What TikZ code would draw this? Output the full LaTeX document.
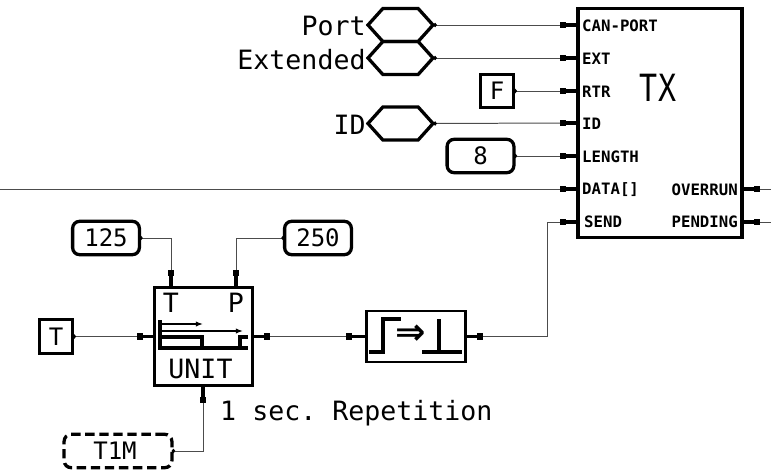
\documentclass[tikz,border=0pt]{standalone}
\usepackage{fontspec}
\setmonofont{DejaVu Sans Mono}
\newfontfamily\arrowfont{DejaVu Sans}
\usetikzlibrary{arrows.meta,shapes.symbols}

\tikzset{
    box/.style={draw, line width=2.8pt, inner sep=0pt, font=\ttfamily\fontsize{20.5}{20.5}\selectfont},
    constbox/.style={box, rounded corners=6pt, minimum width=57pt, minimum height=28.5pt},
    flagbox/.style={box, minimum width=28.5pt, minimum height=28.5pt},
    hexbox/.style={draw, line width=2.8pt, shape=signal, signal from=nowhere, signal to=east and west,
        signal pointer angle=96, inner sep=0pt, minimum width=55.5pt, minimum height=28.2pt},
    icon/.style={line width=2.8pt},
    wire/.style={line width=0.85pt, black!70},
    outwire/.style={wire, shorten <=-1.6pt, {Circle[length=3pt,width=3.5pt,black]}-},
    stub/.style={line width=2.8pt, {Square[length=5.5pt,width=5.5pt]}-},
    pinlabel/.style={inner sep=0pt, font=\ttfamily\bfseries\fontsize{13.4}{13.4}\selectfont},
    biglabel/.style={inner sep=0pt, font=\ttfamily\fontsize{22.7}{22.7}\selectfont}
}

\begin{document}
\begin{tikzpicture}[x=0.03cm, y=-0.03cm]
    % Picture frame
    \useasboundingbox (0, 0) rectangle (771, 470);

    % 1. TX block and its pins
    \node[box, minimum width=140pt, minimum height=196pt] (tx) at (660, 123) {};
    \node[xscale=0.8, transform shape, inner sep=0pt, font=\ttfamily\fontsize{32}{32}\selectfont] (txname) at (658, 88) {TX};

    \coordinate (pincan) at (560, 25);
    \coordinate (pinext) at (560, 58);
    \coordinate (pinrtr) at (560, 91);
    \coordinate (pinid) at (560, 123);
    \coordinate (pinlen) at (560, 156);
    \coordinate (pindata) at (560, 189);
    \coordinate (pinsend) at (560, 222);
    \coordinate (pinover) at (760, 189);
    \coordinate (pinpend) at (760, 222);

    \draw[stub] (pincan) -- (pincan -| tx.west);
    \draw[stub] (pinext) -- (pinext -| tx.west);
    \draw[stub] (pinrtr) -- (pinrtr -| tx.west);
    \draw[stub] (pinid) -- (pinid -| tx.west);
    \draw[stub] (pinlen) -- (pinlen -| tx.west);
    \draw[stub] (pindata) -- (pindata -| tx.west);
    \draw[stub] (pinsend) -- (pinsend -| tx.west);
    \draw[stub] (pinover) -- (pinover -| tx.east);
    \draw[stub] (pinpend) -- (pinpend -| tx.east);

    \node[pinlabel, right] (lblcan) at (582, 26) {CAN-PORT};
    \node[pinlabel, right] (lblext) at (582, 59) {EXT};
    \node[pinlabel, right] (lblrtr) at (582, 92) {RTR};
    \node[pinlabel, right] (lblid) at (582, 124) {ID};
    \node[pinlabel, right] (lbllen) at (582, 157) {LENGTH};
    \node[pinlabel, right] (lbldata) at (582, 190) {DATA[]};
    \node[pinlabel, right] (lblsend) at (584, 222) {SEND};
    \node[pinlabel, left] (lblover) at (738, 190) {OVERRUN};
    \node[pinlabel, left] (lblpend) at (738, 222) {PENDING};

    % 2. Inputs of the TX block
    \node[hexbox] (port) at (400.5, 25) {};
    \node[hexbox] (ext) at (400.5, 58) {};
    \node[hexbox] (id) at (400.5, 123.5) {};
    \node[biglabel, left] (portname) at ([yshift=-1pt]port.west) {Port};
    \node[biglabel, left] (extname) at ([yshift=-1pt]ext.west) {Extended};
    \node[biglabel, left] (idname) at ([yshift=-1pt]id.west) {ID};
    \node[flagbox] (flagf) at (497, 91) {F};
    \node[constbox] (eight) at (480.5, 156) {8};

    \draw[outwire] (port.east) -- (pincan);
    \draw[outwire] (ext.east) -- (pinext);
    \draw[outwire] (flagf.east) -- (pinrtr);
    \draw[outwire] (id.east) -- (pinid);
    \draw[outwire] (eight.east) -- (pinlen);

    % Lines running off the picture
    \coordinate (dataend) at (0, 189);
    \coordinate (overend) at (771, 189);
    \coordinate (pendend) at (771, 222);
    \draw[wire] (dataend) -- (pindata);
    \draw[wire] (pinover) -- (overend);
    \draw[wire] (pinpend) -- (pendend);

    % 3. UNIT block
    \node[box, minimum width=84pt, minimum height=84pt] (unit) at (203.5, 336.5) {};
    \node[biglabel] (unitt) at (171, 303) {T};
    \node[biglabel] (unitp) at (236, 303) {P};
    \node[biglabel] (unitname) at (200.5, 369) {UNIT};
    % Pulse picture in the block
    \draw[icon] (160, 320) -- (160, 348) -- (248, 348);
    \draw[icon] (160, 337) -- (202, 337) -- (202, 348);
    \draw[icon] (248, 337) -- (240, 337) -- (240, 348);
    \draw[line width=1.7pt, -{Latex[length=6pt,width=4.5pt]}] (160, 324) -- (203, 324);
    \draw[line width=1.7pt, -{Latex[length=6pt,width=4.5pt]}] (160, 331) -- (243, 331);

    \coordinate (pint) at (171, 270);
    \coordinate (pinp) at (236, 270);
    \coordinate (pinin) at (137, 336.5);
    \coordinate (pinout) at (270, 336.5);
    \coordinate (pinclk) at (203, 403);
    \draw[stub] (pint) -- (pint |- unit.north);
    \draw[stub] (pinp) -- (pinp |- unit.north);
    \draw[stub] (pinin) -- (pinin -| unit.west);
    \draw[stub] (pinout) -- (pinout -| unit.east);
    \draw[stub] (pinclk) -- (pinclk |- unit.south);

    % Inputs of the UNIT block
    \node[constbox] (val125) at (106, 238) {125};
    \node[constbox] (val250) at (318, 238) {250};
    \node[flagbox] (flagt) at (56, 336.5) {T};
    \node[constbox, dash pattern=on 8pt off 4pt, minimum width=92pt] (clock) at (118, 451) {};
    \node[inner sep=0pt, font=\ttfamily\fontsize{20.5}{20.5}\selectfont] (clockname) at (115, 451) {T1M};
    \node[biglabel, right] (note) at (220, 413) {1 sec. Repetition};

    \draw[outwire] (val125.east) -| (pint);
    \draw[outwire] (val250.west) -| (pinp);
    \draw[outwire] (flagt.east) -- (pinin);
    \draw[outwire] (clock.east) -| (pinclk);

    % 4. Edge block between UNIT and SEND
    \node[box, line width=2.5pt, minimum width=85pt, minimum height=43.5pt] (edge) at (416, 336.5) {};
    \draw[icon] (369, 352) -- (383, 352) -- (383, 319) -- (401, 319);
    \node[inner sep=0pt, font=\arrowfont\bfseries\fontsize{31}{31}\selectfont] (edgearrow) at (411, 335) {⇒};
    \draw[icon] (422, 352) -- (462, 352);
    \draw[icon] (439, 319) -- (439, 352);

    \coordinate (pinedgein) at (346, 336.5);
    \coordinate (pinedgeout) at (483, 336.5);
    \coordinate (bend) at (547, 336.5);
    \draw[stub] (pinedgein) -- (pinedgein -| edge.west);
    \draw[stub] (pinedgeout) -- (pinedgeout -| edge.east);
    \draw[wire] (pinout) -- (pinedgein);
    \draw[wire] (pinedgeout) -- (bend) |- (pinsend);
\end{tikzpicture}
\end{document}
